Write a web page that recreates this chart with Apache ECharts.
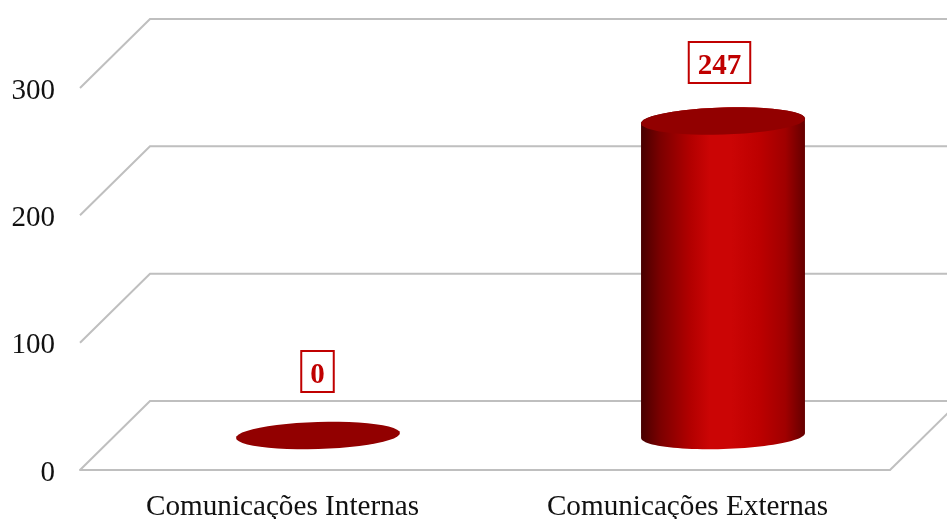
<!DOCTYPE html>
<html>
<head>
<meta charset="utf-8">
<title>Comunicações</title>
<script src="https://cdn.jsdelivr.net/npm/echarts@6/dist/echarts.min.js"></script>
<style>
html, body { margin: 0; padding: 0; background: #fff; }
#chart { width: 947px; height: 519px; }
</style>
</head>
<body>
<div id="chart"></div>
<script>
let categories = ["Comunicações Internas", "Comunicações Externas"];
let values = [0, 247];
let yTicks = [0, 100, 200, 300];

// fake 3d: how far the back wall sits from the front of the floor
let depthX = 70;
let depthY = 69;
let barRx = 82;
let barRy = 13.5;
let tilt = 0.03;

let fontName = '"Liberation Serif", serif';
let gridColour = "#bfbfbf";
let red = "#c00000";

function ellipse_points(cx, cy, start, end)
{
    let points = [];
    for (let i = 0; i <= 48; i++)
    {
        let a = start + (end - start) * i / 48;
        let px = barRx * Math.cos(a);
        let py = barRy * Math.sin(a);
        points.push([
            cx + px * Math.cos(tilt) + py * Math.sin(tilt),
            cy - px * Math.sin(tilt) + py * Math.cos(tilt)
        ]);
    }
    return points;
}

// floor and wall lines, one per tick
function render_wall(params, api)
{
    let rect = params.coordSys;
    let y = api.coord([0, api.value(0)])[1];
    let left = rect.x;
    let children = [{
        type: "polyline",
        shape: { points: [[left, y], [left + depthX, y - depthY], [947, y - depthY]] },
        style: { stroke: gridColour, lineWidth: 2, fill: null }
    }];
    if (api.value(0) === 0)
    {
        let right = rect.x + rect.width;
        children.push({
            type: "line",
            shape: { x1: right, y1: y, x2: right + depthX, y2: y - depthY },
            style: { stroke: gridColour, lineWidth: 2 }
        });
    }
    return { type: "group", children: children };
}

function render_cylinder(params, api)
{
    let base = api.coord([api.value(0), 0]);
    let top = api.coord([api.value(0), api.value(1)]);
    let cx = base[0] + depthX / 2 + 0.5;
    let yBottom = base[1] - depthY / 2;
    let yTop = top[1] - depthY / 2;
    let isEmpty = api.value(1) === 0;

    let children = [];
    if (!isEmpty)
    {
        let lower = ellipse_points(cx, yBottom, 0, Math.PI);
        let upper = ellipse_points(cx, yTop, Math.PI, 2 * Math.PI);
        children.push({
            type: "polygon",
            shape: { points: lower.concat(upper) },
            style: {
                fill: new echarts.graphic.LinearGradient(0, 0, 1, 0, [
                    { offset: 0, color: "#470000" },
                    { offset: 0.12, color: "#7c0000" },
                    { offset: 0.3, color: "#b20000" },
                    { offset: 0.42, color: "#cb0505" },
                    { offset: 0.55, color: "#cb0505" },
                    { offset: 0.72, color: "#bd0000" },
                    { offset: 0.88, color: "#a00000" },
                    { offset: 1, color: "#640000" }
                ])
            }
        });
    }
    children.push({
        type: "polygon",
        shape: { points: ellipse_points(cx, yTop, 0, 2 * Math.PI) },
        style: { fill: "#920000" }
    });
    // the empty bar's label sits a bit higher and more centred in the reference
    // verticalAlign top, otherwise zrender ignores the top padding
    children.push({
        type: "text",
        x: isEmpty ? cx - 0.5 : cx - 3.5,
        y: isEmpty ? yTop - 83.5 : yTop - 78,
        style: {
            text: String(api.value(1)),
            font: "bold 29px " + fontName,
            fill: red,
            align: "center",
            verticalAlign: "top",
            backgroundColor: "#fff",
            borderColor: red,
            borderWidth: 2,
            padding: [9, 8, 1, 8]
        }
    });
    return { type: "group", children: children };
}

let myChart = echarts.init(document.getElementById("chart"), null, { renderer: "canvas" });

let option = {
    animation: false,
    backgroundColor: "#fff",
    grid: { left: 80, top: 88, width: 810, height: 382, outerBoundsMode: "none" },
    xAxis: {
        type: "category",
        data: categories,
        axisLine: { lineStyle: { color: gridColour, width: 2 } },
        axisTick: { show: false },
        axisLabel: { color: "#111", fontFamily: fontName, fontSize: 29.2, margin: 23 }
    },
    yAxis: {
        type: "value",
        min: 0,
        max: 300,
        interval: 100,
        axisLine: { show: false },
        axisTick: { show: false },
        splitLine: { show: false },
        axisLabel: {
            color: "#111",
            fontFamily: fontName,
            fontSize: 29,
            margin: 25,
            verticalAlign: "top",
            lineHeight: 6
        }
    },
    series: [
        {
            type: "custom",
            renderItem: render_wall,
            data: yTicks.map(t => [t]),
            encode: { y: 0 },
            z: 1,
            silent: true
        },
        {
            type: "custom",
            renderItem: render_cylinder,
            data: categories.map((c, i) => [i, values[i]]),
            encode: { x: 0, y: 1 },
            z: 2
        }
    ]
};
myChart.setOption(option);
</script>
</body>
</html>
